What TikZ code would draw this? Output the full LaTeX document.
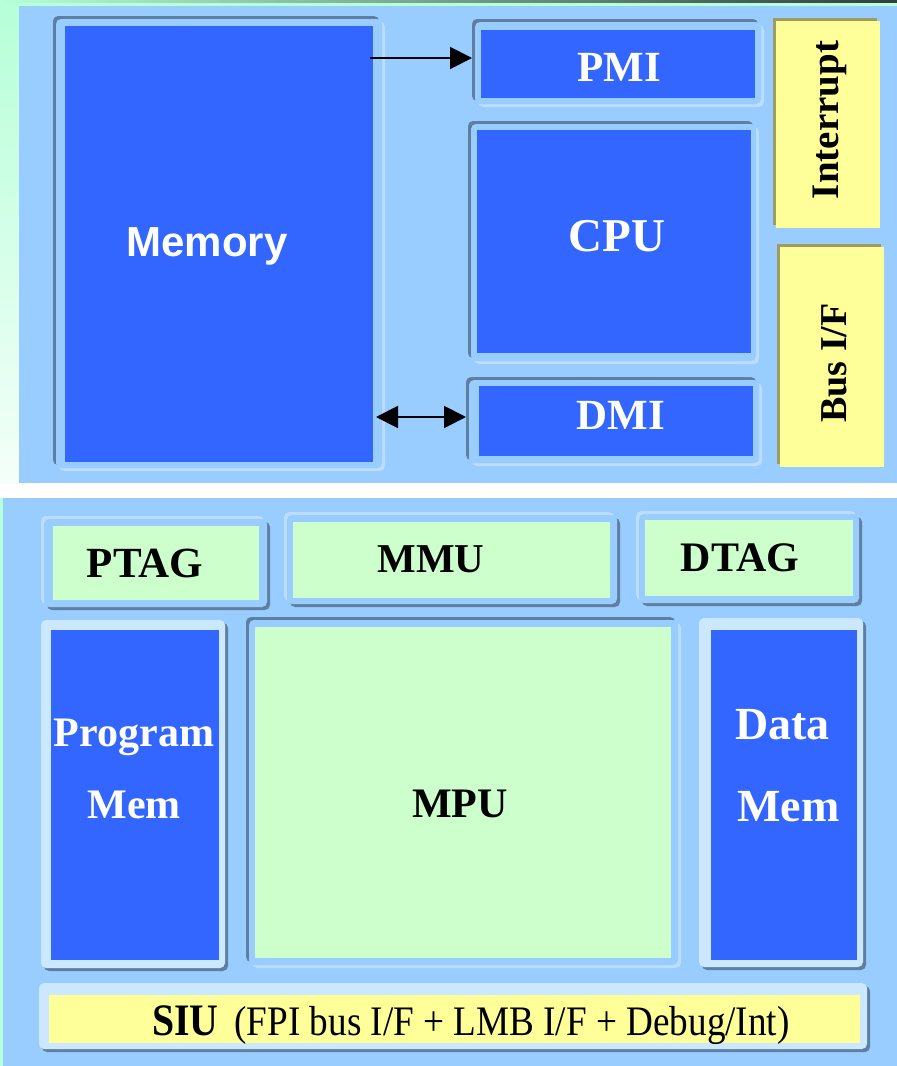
\documentclass[tikz,border=0pt]{standalone}
\usepackage{fontspec}
\setmainfont{Liberation Serif}
\newfontfamily\arialfont{Liberation Sans}
\usetikzlibrary{arrows.meta,shadows}

\definecolor{panel}{HTML}{99CCFF}
\definecolor{unitblue}{HTML}{3366FF}
\definecolor{unitgreen}{HTML}{CCFFCC}
\definecolor{unityellow}{HTML}{FFFF99}
\definecolor{olive}{HTML}{A09C60}
\definecolor{edgedark}{HTML}{5F7FA0}
\definecolor{edgelight}{HTML}{BBDDFF}
\definecolor{framepale}{HTML}{CCE8FF}
\definecolor{mint}{HTML}{B6FFD8}
\definecolor{topline}{HTML}{2F3F3A}

% font size in pt (one pt per pixel of the drawing)
\newcommand\fs[1]{\fontsize{#1}{#1}\selectfont}
% box by its corners: style, name, x1, y1, x2, y2
\newcommand\blk[6]{\node[#1, minimum width={(#5-#3)*1pt}, minimum height={(#6-#4)*1pt}]
  (#2) at ({(#3+#5)/2},{(#4+#6)/2}) {};}

\tikzset{
  box/.style={inner sep=0pt, outer sep=0pt},
  sunken/.style={box, rounded corners=5pt, fill=panel,
    general shadow={fill=edgedark, shadow xshift=-3pt, shadow yshift=3pt},
    general shadow={fill=edgelight, shadow xshift=3pt, shadow yshift=-3pt}},
  raised/.style={box, rounded corners=5pt, fill=panel,
    general shadow={fill=edgelight, shadow xshift=-3pt, shadow yshift=3pt},
    general shadow={fill=edgedark, shadow xshift=3pt, shadow yshift=-3pt}},
  pale/.style={box, rounded corners=5pt, fill=framepale,
    general shadow={fill=edgedark, shadow xshift=3pt, shadow yshift=-3pt}},
  bluebox/.style={box, fill=unitblue},
  greenbox/.style={box, fill=unitgreen},
  yellowbox/.style={box, fill=unityellow,
    general shadow={fill=olive, shadow xshift=-3pt, shadow yshift=3pt}},
  whitelbl/.style={inner sep=0pt, anchor=base, text=white, font=\bfseries},
  blacklbl/.style={inner sep=0pt, anchor=base, text=black, font=\bfseries},
  conn/.style={line width=2pt, black},
  bigtip/.tip={Triangle[length=22pt, width=22pt]},
}

\begin{document}
\begin{tikzpicture}[x=1pt, y=-1pt]
\useasboundingbox (0,0) rectangle (897,1066);
\fill[white] (0,0) rectangle (897,1066);

% page background: mint edges and the thin top rule
\fill[mint] (0,0) rectangle (897,6);
\shade[left color=mint, right color=topline] (0,0.4) rectangle (897,2);
\shade[top color=mint, bottom color=mint!15!white] (0,6) rectangle (19,483);
\fill[mint] (0,498) rectangle (3,1066);

% two panels
\fill[panel] (19,6) rectangle (897,483);
\fill[panel] (3,498) rectangle (897,1066);

% ---------------- core panel ----------------
\blk{sunken}{memframe}{56}{19}{382}{468}
\blk{bluebox}{mem}{65}{26}{373}{462}
\node[whitelbl, font=\arialfont\bfseries\fs{42}] (memtxt) at (207,256) {Memory};

\blk{sunken}{pmiframe}{475}{22}{761}{104}
\blk{bluebox}{pmi}{481}{30}{755}{98}
\node[whitelbl, font=\bfseries\fs{43}] (pmitxt) at (619,81) {PMI};

\blk{sunken}{cpuframe}{471}{124}{756}{361}
\blk{bluebox}{cpu}{477}{130}{751}{353}
\node[whitelbl, font=\bfseries\fs{47}] (cputxt) at (617,251) {CPU};

\blk{sunken}{dmiframe}{469}{380}{759}{463}
\blk{bluebox}{dmi}{479}{386}{753}{456}
\node[whitelbl, font=\bfseries\fs{43}] (dmitxt) at (621,429) {DMI};

\blk{yellowbox}{intr}{776}{21}{880}{228}
\node[blacklbl, font=\bfseries\fs{39}, rotate=90] (intrtxt) at (838,120) {Interrupt};

\blk{yellowbox}{busif}{780}{247}{884}{467}
\node[blacklbl, font=\bfseries\fs{38}, rotate=90] (busiftxt) at (846,363) {Bus I/F};

% connections of the core
\coordinate (pmistart) at (370,58);
\draw[conn, -{bigtip}, shorten >=3pt] (pmistart) -- (pmistart -| pmiframe.west);
\coordinate (dmistart) at (376,417);
\draw[conn, {bigtip}-{bigtip}, shorten >=3pt] (dmistart) -- (dmistart -| dmiframe.west);

% ---------------- TriCore panel ----------------
\blk{raised}{ptagframe}{44}{519}{267}{607}
\blk{greenbox}{ptag}{53}{526}{259}{600}
\node[blacklbl, font=\bfseries\fs{43}] (ptagtxt) at (145,577) {PTAG};

\blk{raised}{mmuframe}{287}{515}{617}{604}
\blk{greenbox}{mmu}{293}{522}{610}{598}
\node[blacklbl, font=\bfseries\fs{41}] (mmutxt) at (431,572) {MMU};

\blk{raised}{dtagframe}{639}{514}{859}{603}
\blk{greenbox}{dtag}{645}{520}{853}{596}
\node[blacklbl, font=\bfseries\fs{42}] (dtagtxt) at (740,571) {DTAG};

\blk{pale}{pmemframe}{41}{620}{225}{968}
\blk{bluebox}{pmem}{51}{630}{219}{960}
\node[whitelbl, font=\bfseries\fs{42}] (pmemtxta) at (134,746) {Program};
\node[whitelbl, font=\bfseries\fs{42}] (pmemtxtb) at (134,818) {Mem};

\blk{sunken}{mpuframe}{249}{620}{678}{965}
\blk{greenbox}{mpu}{255}{627}{671}{958}
\node[blacklbl, font=\bfseries\fs{42}] (mputxt) at (460,817) {MPU};

\blk{pale}{dmemframe}{699}{618}{863}{967}
\blk{bluebox}{dmem}{711}{630}{857}{960}
\node[whitelbl, font=\bfseries\fs{46}, anchor=base west] (dmemtxta) at (735,739) {Data};
\node[whitelbl, font=\bfseries\fs{46}, anchor=base west] (dmemtxtb) at (737,821) {Mem};

\blk{pale}{siuframe}{39}{983}{867}{1049}
\blk{box, fill=unityellow}{siu}{49}{995}{860}{1043}
\node[blacklbl, font=\fs{42}, anchor=base west] (siutxt) at (152,1035)
  {\scalebox{0.885}[1]{{\bfseries\fs{45}SIU}\hspace{18pt}(FPI bus I/F + LMB I/F + Debug/Int)}};
\end{tikzpicture}
\end{document}
